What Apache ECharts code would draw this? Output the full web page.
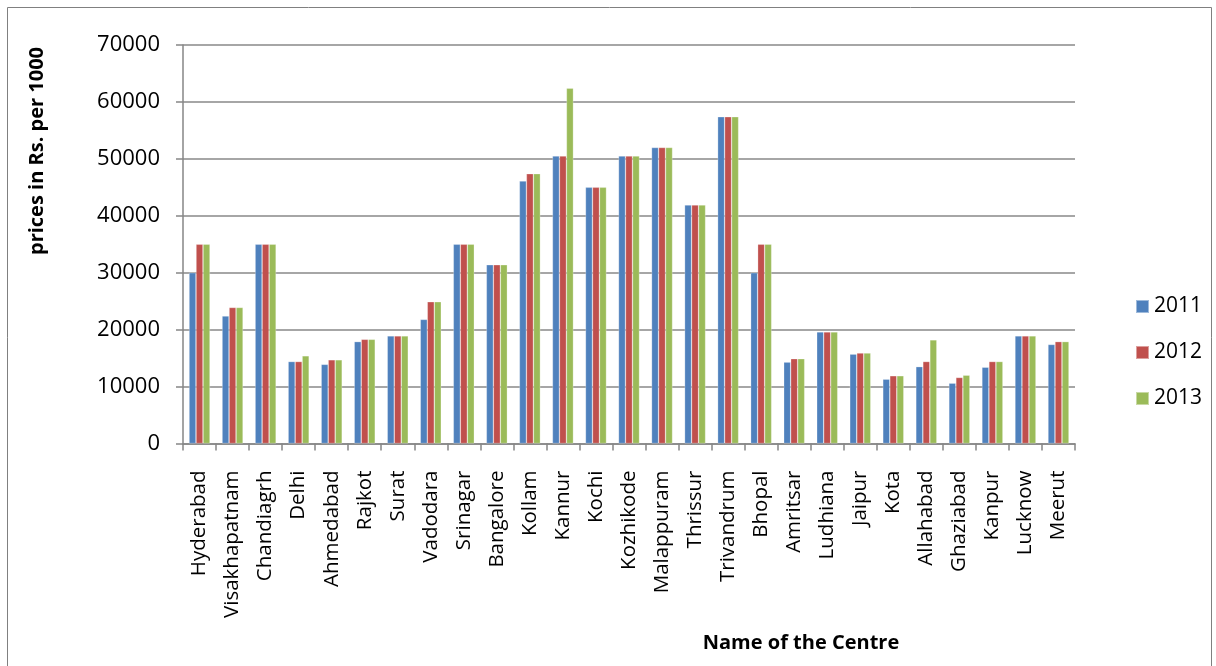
<!DOCTYPE html>
<html>
<head>
<meta charset="utf-8">
<script src="https://cdn.jsdelivr.net/npm/echarts@6/dist/echarts.min.js"></script>
<style>
  html, body { margin: 0; padding: 0; background: #fff; }
  #chart { width: 1216px; height: 666px; }
</style>
</head>
<body>
<div id="chart"></div>
<script>
// Centres along the category axis
const centres = ['Hyderabad', 'Visakhapatnam', 'Chandiagrh', 'Delhi', 'Ahmedabad', 'Rajkot', 'Surat',
  'Vadodara', 'Srinagar', 'Bangalore', 'Kollam', 'Kannur', 'Kochi', 'Kozhikode', 'Malappuram',
  'Thrissur', 'Trivandrum', 'Bhopal', 'Amritsar', 'Ludhiana', 'Jaipur', 'Kota', 'Allahabad',
  'Ghaziabad', 'Kanpur', 'Lucknow', 'Meerut'];

// Prices in Rs. per 1000, by year
const prices2011 = [30000, 22400, 35000, 14400, 13900, 17900, 18900, 21800, 35000, 31400, 46100, 50500,
  45000, 50500, 52000, 41900, 57400, 30000, 14300, 19600, 15700, 11300, 13500, 10600, 13400, 18900, 17400];
const prices2012 = [35000, 23900, 35000, 14400, 14700, 18300, 18900, 24900, 35000, 31400, 47400, 50500,
  45000, 50500, 52000, 41900, 57400, 35000, 14900, 19600, 15900, 11900, 14400, 11600, 14400, 18900, 17900];
const prices2013 = [35000, 23900, 35000, 15400, 14700, 18300, 18900, 24900, 35000, 31400, 47400, 62400,
  45000, 50500, 52000, 41900, 57400, 35000, 14900, 19600, 15900, 11900, 18200, 12000, 14400, 18900, 17900];

const years = ['2011', '2012', '2013'];
const yearColors = ['#4F81BD', '#C0504D', '#9BBB59'];

// Axis titles
const xTitle = 'Name of the Centre';
const yTitle = 'prices in Rs. per 1000';

const FONT = '"Open Sans", "Noto Sans", sans-serif';

const chart = echarts.init(document.getElementById('chart'), null, { renderer: 'canvas' });

function barSeries(name, data, color) {
  return {
    name: name,
    type: 'bar',
    data: data,
    barWidth: 7,
    barGap: '0%',
    itemStyle: { color: color, borderColor: 'rgba(255,255,255,0.45)', borderWidth: 0.6 },
    emphasis: { disabled: true },
    animation: false
  };
}

chart.setOption({
  animation: false,
  textStyle: { fontFamily: FONT },
  graphic: [
    {
      type: 'rect',
      shape: { x: 7.5, y: 7.5, width: 1204, height: 670 },
      style: { fill: 'none', stroke: '#808080', lineWidth: 1 },
      silent: true
    },
    {
      type: 'text',
      x: 801, y: 643,
      style: {
        text: xTitle, font: 'bold 20px ' + FONT, fill: '#000',
        textAlign: 'center', textVerticalAlign: 'middle'
      },
      silent: true
    },
    {
      type: 'text',
      x: 37, y: 151,
      rotation: Math.PI / 2,
      style: {
        text: yTitle, font: 'bold 20px ' + FONT, fill: '#000',
        textAlign: 'center', textVerticalAlign: 'middle'
      },
      silent: true
    }
  ],
  grid: { left: 183, right: 141, top: 45, bottom: 222.5, containLabel: false },
  legend: {
    orient: 'vertical',
    left: 1130,
    top: 291,
    itemWidth: 13,
    itemHeight: 13,
    itemGap: 25,
    itemTextGap: 7,
    icon: 'rect',
    data: years,
    textStyle: { fontSize: 21, color: '#000', fontFamily: FONT }
  },
  xAxis: {
    type: 'category',
    data: centres,
    axisLine: { show: true, lineStyle: { color: '#868686', width: 1.5 } },
    axisTick: { show: true, length: 7, alignWithLabel: false, lineStyle: { color: '#868686', width: 1.5 } },
    axisLabel: { rotate: 90, interval: 0, fontSize: 20.5, color: '#000', margin: 27, fontFamily: FONT },
    splitLine: { show: false }
  },
  yAxis: {
    type: 'value',
    min: 0,
    max: 70000,
    interval: 10000,
    axisLine: { show: true, lineStyle: { color: '#868686', width: 1.5 } },
    axisTick: { show: true, inside: false, length: 7, lineStyle: { color: '#868686', width: 1.5 } },
    axisLabel: { fontSize: 22, color: '#000', margin: 23, fontFamily: FONT, formatter: v => String(v) },
    splitLine: { show: true, lineStyle: { color: '#888888', width: 1.5 } }
  },
  series: [
    barSeries(years[0], prices2011, yearColors[0]),
    barSeries(years[1], prices2012, yearColors[1]),
    barSeries(years[2], prices2013, yearColors[2])
  ]
});
</script>
</body>
</html>
